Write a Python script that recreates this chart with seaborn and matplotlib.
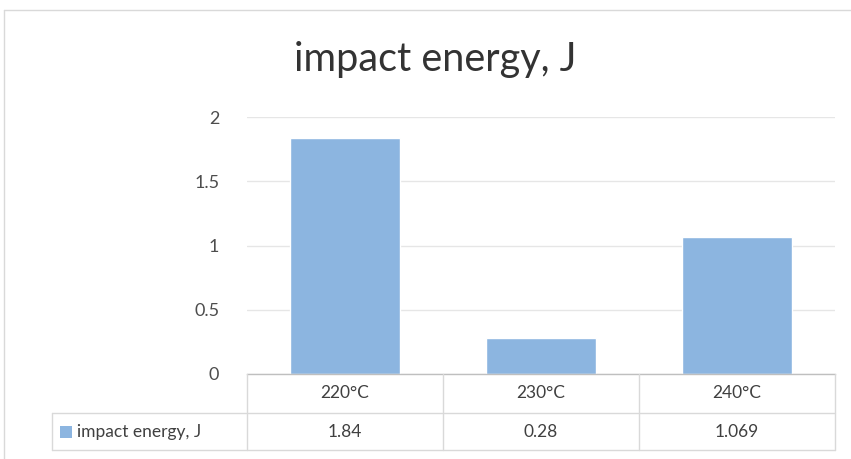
import matplotlib
matplotlib.use("Agg")
import matplotlib.pyplot as plt
from matplotlib.lines import Line2D
from matplotlib.patches import Rectangle
import seaborn as sns
import pandas as pd

categories = ["220°C", "230°C", "240°C"]
impact_energy = [1.84, 0.28, 1.069]
value_labels = ["1.84", "0.28", "1.069"]
series_name = "impact energy, J"
y_ticks = [0, 0.5, 1, 1.5, 2]
y_tick_labels = ["0", "0.5", "1", "1.5", "2"]

sns.set_theme(style="white")
plt.rcParams["font.family"] = ["Lato", "DejaVu Sans"]

W, H = 851, 459
fig = plt.figure(figsize=(W / 100, H / 100), dpi=100)

# plot area in pixel coordinates
x0, x1 = 247, 835
y_top, y_zero = 117, 374
ax = fig.add_axes([x0 / W, 1 - y_zero / H, (x1 - x0) / W, (y_zero - y_top) / H])

df = pd.DataFrame({"temp": categories, "energy": impact_energy})
bar_color = "#8CB5E0"
sns.barplot(data=df, x="temp", y="energy", color=bar_color, width=0.56,
            saturation=1, ax=ax)
ax.set_xlim(-0.5, 2.5)
ax.set_ylim(0, 2)
ax.set_yticks(y_ticks)
ax.set_yticklabels(y_tick_labels, color="#4D4D4D", fontsize=13)
ax.tick_params(axis="y", length=0, pad=20)
ax.set_xticks([])
ax.set_xlabel("")
ax.set_ylabel("")
for s in ["top", "right", "left"]:
    ax.spines[s].set_visible(False)
ax.spines["bottom"].set_color("#BFBFBF")
ax.spines["bottom"].set_linewidth(1.0)
ax.set_axisbelow(True)
ax.yaxis.grid(True, color="#E6E6E6", linewidth=1.0)
ax.xaxis.grid(False)


def px_line(xs, ys, color="#D9D9D9", lw=1.0):
    fig.add_artist(Line2D([x / W for x in xs], [1 - y / H for y in ys],
                          transform=fig.transFigure, color=color, linewidth=lw))


# outer chart border
px_line([4, 4], [10, H], color="#D9D9D9")
px_line([4, W], [10, 10], color="#D9D9D9")

# title
fig.text(435 / W, 1 - 60 / H, series_name, ha="center", va="center",
         fontsize=28.5, color="#333333", fontweight="normal")

# data table beneath the plot
row1, row2, row3 = 374, 413, 450
col_edges = [x0, 443, 639, x1]
px_line([52, x1], [row2, row2])
px_line([52, x1], [row3, row3])
px_line([52, 52], [row2, row3])
for cx in col_edges:
    px_line([cx, cx], [row1, row3])

for i, (cat, val) in enumerate(zip(categories, value_labels)):
    cx = (col_edges[i] + col_edges[i + 1]) / 2
    fig.text(cx / W, 1 - 393 / H, cat, ha="center", va="center",
             fontsize=12.5, color="#404040")
    fig.text(cx / W, 1 - 432 / H, val, ha="center", va="center",
             fontsize=12.5, color="#404040")

# legend key in the table header cell
fig.add_artist(Rectangle((60 / W, 1 - 438 / H), 12 / W, 12 / H,
                         transform=fig.transFigure, facecolor=bar_color,
                         edgecolor="none"))
fig.text(77 / W, 1 - 432 / H, series_name, ha="left", va="center",
         fontsize=12.5, color="#404040")

fig.savefig("out.png", dpi=100, facecolor="white")
